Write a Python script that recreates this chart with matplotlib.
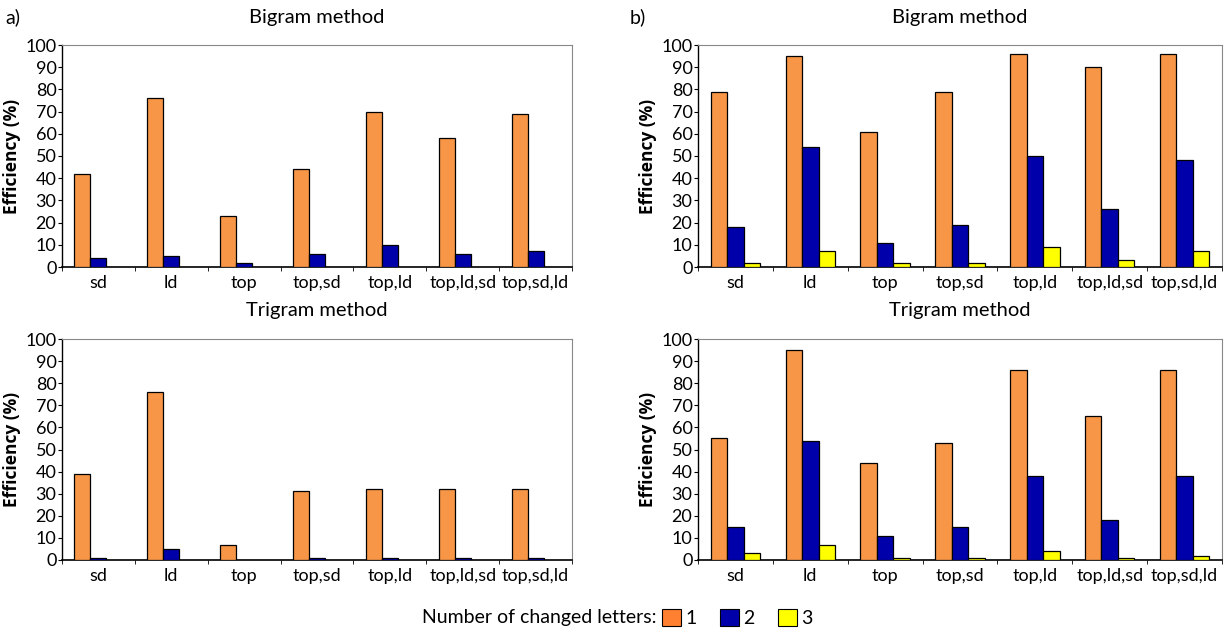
import numpy as np
from matplotlib import pyplot as plt
from matplotlib.patches import Patch

plt.rcParams['font.family'] = ['Lato', 'DejaVu Sans']

categories = ['sd', 'ld', 'top', 'top,sd', 'top,ld', 'top,ld,sd', 'top,sd,ld']

# a) bigram / trigram
a_bi_1 = [42, 76, 23, 44, 70, 58, 69]
a_bi_2 = [4, 5, 2, 6, 10, 6, 7]
a_tri_1 = [39, 76, 7, 31, 32, 32, 32]
a_tri_2 = [1, 5, 0, 1, 1, 1, 1]

# b) bigram / trigram
b_bi_1 = [79, 95, 61, 79, 96, 90, 96]
b_bi_2 = [18, 54, 11, 19, 50, 26, 48]
b_bi_3 = [2, 7, 2, 2, 9, 3, 7]
b_tri_1 = [55, 95, 44, 53, 86, 65, 86]
b_tri_2 = [15, 54, 11, 15, 38, 18, 38]
b_tri_3 = [3, 7, 1, 1, 4, 1, 2]

colors = ['#F79646', '#0000AA', '#FFFF00']
W, H = 1224, 633
fig = plt.figure(figsize=(W / 100, H / 100), dpi=100)


def panel(rect, title, series):
    l, t, r, b = rect
    ax = fig.add_axes([l / W, 1 - b / H, (r - l) / W, (b - t) / H])
    x = np.arange(len(categories))
    w = 0.22
    for i, vals in enumerate(series):
        vals = np.array(vals, dtype=float)
        keep = vals > 0
        ax.bar(x[keep] + (i - 1) * w, vals[keep], width=w, color=colors[i],
               edgecolor='black', linewidth=0.9, zorder=3)
    ax.set_xlim(-0.5, len(categories) - 0.5)
    ax.set_ylim(0, 100)
    ax.set_yticks(range(0, 101, 10))
    ax.set_xticks(x)
    ax.set_xticklabels(categories)
    ax.set_xticks(np.arange(-0.5, len(categories)), minor=True)
    ax.tick_params(axis='x', which='major', length=0, labelsize=13, pad=6)
    ax.tick_params(axis='x', which='minor', length=3, direction='out')
    ax.tick_params(axis='y', length=3, labelsize=13, pad=1)
    for s in ['top', 'right']:
        ax.spines[s].set_color('#888888')
    ax.spines['left'].set_linewidth(1.0)
    ax.spines['bottom'].set_linewidth(1.2)
    ax.set_ylabel('Efficiency (%)', fontweight='bold', fontsize=12.5,
                  family=['Open Sans', 'DejaVu Sans'], labelpad=3)
    fig.text((l + r) / 2 / W, 1 - (t - 28) / H, title, ha='center',
             va='center', fontsize=14.5)
    return ax


panel((62, 45, 572, 267), 'Bigram method', [a_bi_1, a_bi_2])
panel((62, 339, 572, 560), 'Trigram method', [a_tri_1, a_tri_2])
panel((698, 45, 1222, 267), 'Bigram method', [b_bi_1, b_bi_2, b_bi_3])
panel((698, 339, 1222, 560), 'Trigram method', [b_tri_1, b_tri_2, b_tri_3])

fig.text(5 / W, 1 - 17 / H, 'a)', fontsize=14, va='center')
fig.text(630 / W, 1 - 17 / H, 'b)', fontsize=14, va='center')

fig.text(656 / W, 1 - 618 / H, 'Number of changed letters:', ha='right',
         va='center', fontsize=14)
handles = [Patch(facecolor=c, edgecolor='black', linewidth=0.8) for c in ['#FF8030', '#0000AA', '#FFFF00']]
fig.legend(handles, ['1', '2', '3'], loc='center left',
           bbox_to_anchor=(662 / W, 1 - 618 / H), ncol=3, frameon=False,
           fontsize=14, handlelength=1.0, handleheight=1.0,
           handletextpad=0.2, columnspacing=1.2, borderpad=0,
           borderaxespad=0)

fig.savefig('out.png', dpi=100)
